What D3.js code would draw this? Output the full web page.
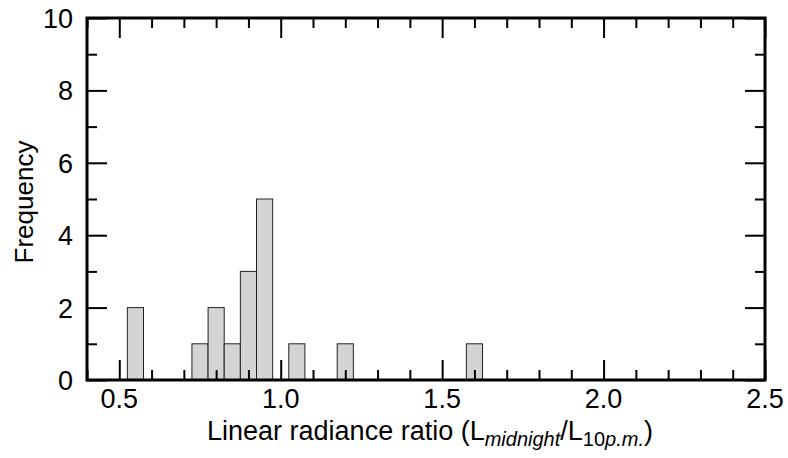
<!DOCTYPE html>
<html><head><meta charset="utf-8">
<script src="https://cdn.jsdelivr.net/npm/d3@7"></script>
<style>body{margin:0;background:#fff}svg{display:block}text{font-family:"Liberation Sans",Arial,sans-serif;fill:#000}</style>
</head><body><svg id="c" width="788" height="458"></svg>
<script>
const binCenters = [0.55, 0.75, 0.80, 0.85, 0.90, 0.95, 1.05, 1.20, 1.60];
const counts     = [2,    1,    2,    1,    3,    5,    1,    1,    1];
const binWidth = 0.05;
const xTicks = [0.5, 1.0, 1.5, 2.0, 2.5];
const yTicks = [0, 2, 4, 6, 8, 10];

const svg = d3.select("#c");
const L = 87, R = 765, T = 18, B = 380;
const x = d3.scaleLinear().domain([0.4, 2.5]).range([L, R]);
const y = d3.scaleLinear().domain([0, 10]).range([B, T]);

svg.append("g").selectAll("rect").data(binCenters).join("rect")
  .attr("x", (d) => x(d - binWidth/2))
  .attr("width", (d) => x(d + binWidth/2) - x(d - binWidth/2))
  .attr("y", (d,i) => y(counts[i]))
  .attr("height", (d,i) => y(0) - y(counts[i]))
  .attr("fill", "#d4d4d4").attr("stroke", "#222").attr("stroke-width", 1);

const xMinor = d3.range(0.4, 2.5001, 0.1).map(v => +v.toFixed(2)).filter(v => !xTicks.some(t => Math.abs(t - v) < 1e-6));
const yMinor = d3.range(1, 10, 2);

const tw = 2;
const gb = svg.append("g").attr("transform", `translate(0,${B})`);
gb.call(d3.axisTop(x).tickValues(xTicks).tickSize(20).tickFormat("")).call(s=>s.select(".domain").remove());
gb.append("g").call(d3.axisTop(x).tickValues(xMinor).tickSize(10).tickFormat("")).call(s=>s.select(".domain").remove());
const gt = svg.append("g").attr("transform", `translate(0,${T})`);
gt.call(d3.axisBottom(x).tickValues(xTicks).tickSize(20).tickFormat("")).call(s=>s.select(".domain").remove());
gt.append("g").call(d3.axisBottom(x).tickValues(xMinor).tickSize(10).tickFormat("")).call(s=>s.select(".domain").remove());
const gl = svg.append("g").attr("transform", `translate(${L},0)`);
gl.call(d3.axisRight(y).tickValues(yTicks).tickSize(20).tickFormat("")).call(s=>s.select(".domain").remove());
gl.append("g").call(d3.axisRight(y).tickValues(yMinor).tickSize(10).tickFormat("")).call(s=>s.select(".domain").remove());
const gr = svg.append("g").attr("transform", `translate(${R},0)`);
gr.call(d3.axisLeft(y).tickValues(yTicks).tickSize(20).tickFormat("")).call(s=>s.select(".domain").remove());
gr.append("g").call(d3.axisLeft(y).tickValues(yMinor).tickSize(10).tickFormat("")).call(s=>s.select(".domain").remove());
svg.selectAll(".tick line").attr("stroke", "#000").attr("stroke-width", tw);

svg.append("rect").attr("x", L).attr("y", T).attr("width", R-L).attr("height", B-T)
  .attr("fill", "none").attr("stroke", "#000").attr("stroke-width", 3);

svg.append("g").selectAll("text").data(xTicks).join("text")
  .attr("x", d => x(d)).attr("y", 408).attr("text-anchor", "middle")
  .attr("font-size", 27).text(d => d.toFixed(1));
svg.append("g").selectAll("text").data(yTicks).join("text")
  .attr("x", 73).attr("y", d => y(d) + 10).attr("text-anchor", "end")
  .attr("font-size", 27).text(d => d);

const xl = svg.append("text").attr("x", 430).attr("y", 440).attr("text-anchor", "middle").attr("font-size", 27);
xl.append("tspan").text("Linear radiance ratio (L");
xl.append("tspan").attr("font-style", "italic").attr("font-size", 20).attr("dy", 6).text("midnight");
xl.append("tspan").attr("font-size", 27).attr("dy", -6).text("/L");
xl.append("tspan").attr("font-size", 20).attr("dy", 6).text("10");
xl.append("tspan").attr("font-size", 20).attr("font-style", "italic").text("p.m.");
xl.append("tspan").attr("font-size", 27).attr("dy", -6).text(")");

svg.append("text").attr("transform", `translate(33,202) rotate(-90)`)
  .attr("text-anchor", "middle").attr("font-size", 26).text("Frequency");
</script></body></html>
